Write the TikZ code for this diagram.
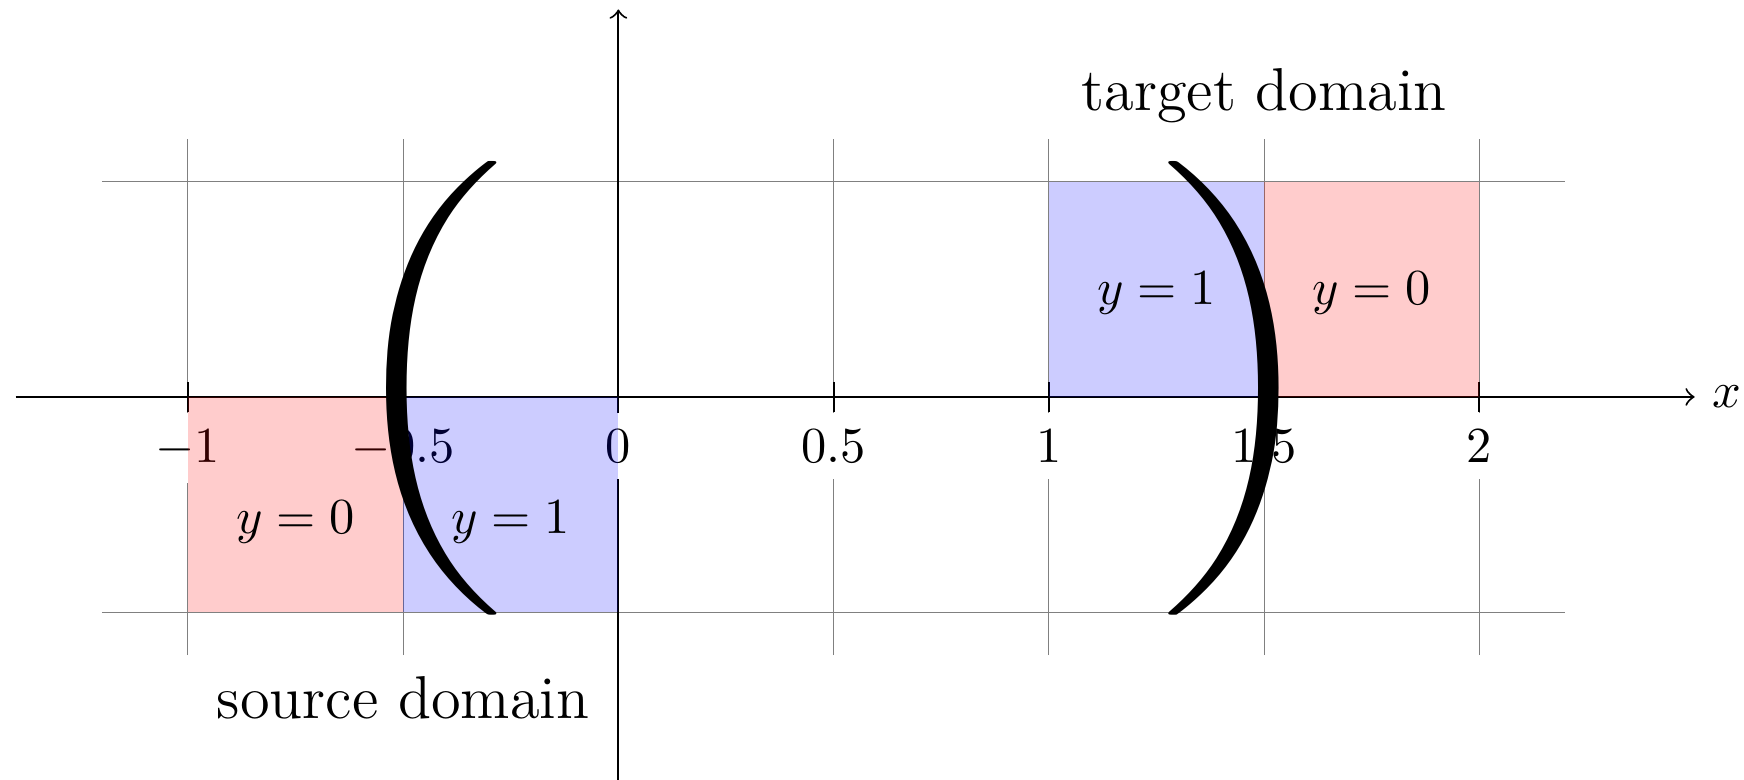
\documentclass[tikz,border=0pt]{standalone}
\usepackage{amsmath}
\begin{document}
\begin{tikzpicture}[x=3cm,y=3cm,
    gridline/.style={gray, very thin},
    ticklabel/.style={below, fill=white},
    bigparen/.style={xscale=4.2, yscale=3},
    domainlabel/.style={font=\large}]
    \useasboundingbox (-1.4365,-0.8897) rectangle (2.6147,0.922);
    % Gitter:
    \foreach \x in {-1,-0.5,0,0.5,1,1.5,2}
        \draw[gridline] (\x,-0.6) -- (\x,0.6);
    \draw[gridline] (-1.2,0.5) -- (2.2,0.5);
    \draw[gridline] (-1.2,-0.5) -- (2.2,-0.5);
    % Achsen:
    \draw[->] (-1.4,0) -- (2.5,0) node[right] (xlabel) {$x$};
    \draw[->] (0,-0.9) -- (0,0.9);
    % Striche mit Beschriftung:
    \foreach \x/\name in {-1/a,-0.5/b,0/c,0.5/d,1/e,1.5/f,2/g}
        \draw (\x,3pt) -- (\x,-3pt) node[ticklabel] (tick\name) {$\x$};
    % Flaechen:
    \fill[red, opacity=0.2] (-1,-0.5) rectangle (-0.5,0); % source, y=0
    \fill[blue, opacity=0.2] (-0.5,-0.5) rectangle (0,0); % source, y=1
    \fill[blue, opacity=0.2] (1,0) rectangle (1.5,0.5); % target, y=1
    \fill[red, opacity=0.2] (1.5,0) rectangle (2,0.5); % target, y=0
    \node (srczero) at (-0.75,-0.29) {$y=0$};
    \node (srcone) at (-0.25,-0.29) {$y=1$};
    \node (tgtone) at (1.25,0.24) {$y=1$};
    \node (tgtzero) at (1.75,0.24) {$y=0$};
    % Klammern:
    \node[bigparen] (lpar) at (-0.46,0.02) {$\Biggl($};
    \node[bigparen] (rpar) at (1.457,0.02) {$\Biggr)$};
    % Bereiche:
    \node[domainlabel] (source) at (-0.5,-0.7) {source domain};
    \node[domainlabel] (target) at (1.5,0.7) {target domain};
\end{tikzpicture}
\end{document}
